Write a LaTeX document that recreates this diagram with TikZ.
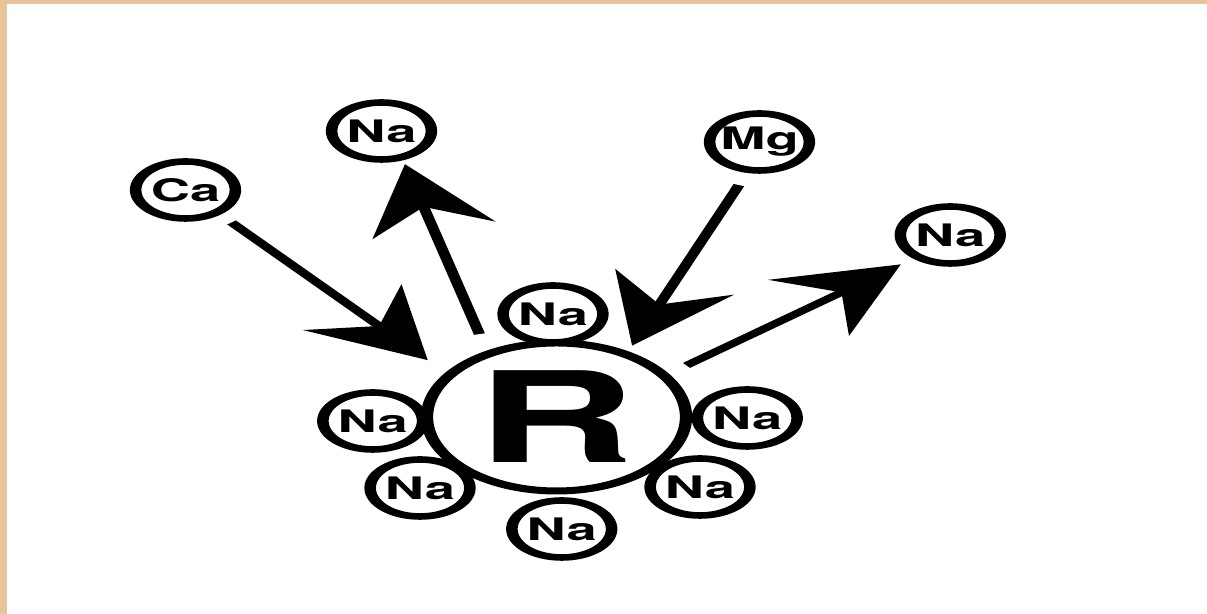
\documentclass[tikz,border=0pt]{standalone}
\usepackage{fontspec}
\setsansfont{TeX Gyre Heros}
\usetikzlibrary{arrows.meta}
\definecolor{paperEdge}{HTML}{E9C49A}

\begin{document}
\begin{tikzpicture}[
    x=0.5pt, y=0.5pt,
    every node/.style={font=\sffamily\bfseries, inner sep=0pt},
    resin/.style={
        circle, draw, line width=3.5pt, minimum size=74pt,
        font=\sffamily\bfseries\fontsize{63}{63}\selectfont
    },
    ion/.style={
        circle, draw, line width=3.3pt, minimum size=28.5pt,
        font=\sffamily\bfseries\fontsize{15.5}{16}\selectfont
    },
    arrow/.style={line width=3.2pt, -{Stealth[length=34pt, width=36pt, inset=12pt]}},
]
% === SHEET ===
\fill[white] (0,0) rectangle (1207,614);
\fill[paperEdge] (0,0) rectangle (7,614);
\fill[paperEdge] (0,610) rectangle (1207,614);

% === EXCHANGER (scan is stretched sideways) ===
\begin{scope}[transform canvas={xscale=1.75}]
\node[resin] (R) at (318,197) {R};

% --- Na ring ---
\node[ion] (naTop) at (316,300) {Na};
\node[ion] (naLeft) at (213,193) {Na};
\node[ion] (naRight) at (427,196) {Na};
\node[ion] (naLowL) at (240,126) {Na};
\node[ion] (naLowR) at (400,127) {Na};
\node[ion] (naBottom) at (321,85) {Na};

% --- incoming / outgoing ions ---
\node[ion] (ca) at (106,424) {Ca};
\node[ion] (naUp) at (218,483) {Na};
\node[ion] (mg) at (434,472) {Mg};
\node[ion] (naOut) at (543,379) {Na};

% === ARROWS ===
% Ca → R
\draw[arrow, shorten <=5pt, shorten >=8pt] (ca.-51) -- (R.145);

% R → Na (up)
\draw[arrow, shorten <=8.5pt, shorten >=2pt] (R.121) -- (naUp.-67);

% Mg → R
\draw[arrow, shorten <=6.5pt, shorten >=3pt] (mg.-103) -- (R.58);

% R → Na (right)
\draw[arrow, shorten <=6.5pt, shorten >=4.5pt] (R.34) -- (naOut.-132);
\end{scope}
\end{tikzpicture}
\end{document}
